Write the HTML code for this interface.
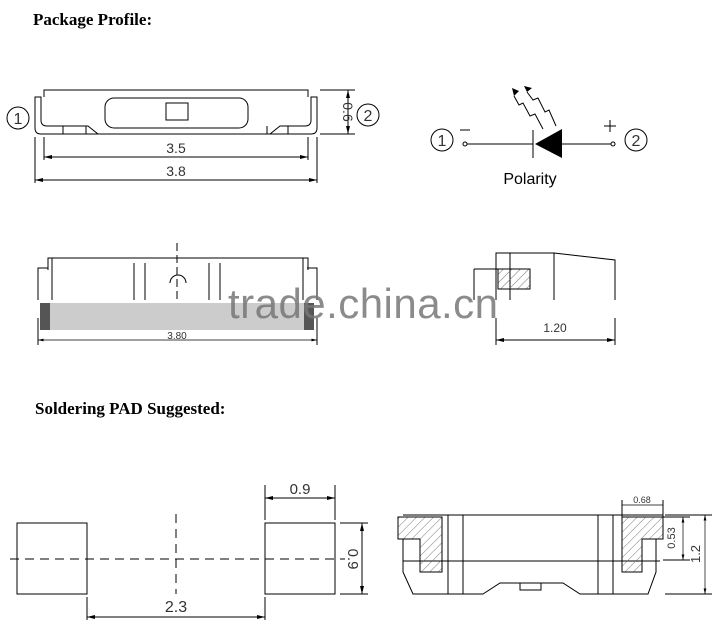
<!DOCTYPE html>
<html><head><style>body{margin:0;background:#fff}svg{display:block}</style></head><body>
<svg width="724" height="635" viewBox="0 0 724 635" xmlns="http://www.w3.org/2000/svg" font-family="Liberation Sans, sans-serif">
<defs>
<pattern id="h" width="6" height="6" patternUnits="userSpaceOnUse" patternTransform="rotate(45)"><line x1="0" y1="0" x2="0" y2="6" stroke="#555" stroke-width="0.8"/></pattern>
<marker id="a" markerWidth="8" markerHeight="6" refX="8" refY="3" orient="auto-start-reverse"><path d="M0,1 L8,3 L0,5z" fill="#000"/></marker>
</defs>
<g font-family="Liberation Serif, serif" font-weight="bold" font-size="17">
<text x="33" y="25">Package Profile:</text>
<text x="35" y="414">Soldering PAD Suggested:</text>
</g>
<g fill="none" stroke="#000" stroke-width="1">
<path d="M44,97 V90 H308 V97"/>
<path d="M35,97 H41 V120 Q41,126 47,126 H88 L98,134 H270 L280,126 H305 Q311,126 311,120 V97 H317 V128 Q317,134 311,134 H41 Q35,134 35,128 Z"/>
<rect x="105" y="98" width="143" height="30" rx="9"/>
<rect x="166" y="103" width="22" height="17"/>
<path d="M63,126 V134 M86,126 V134 M267,126 V134 M288,126 V134"/>
<path d="M44,137 V160 M308,137 V160 M35,137 V183 M317,137 V183 M320,90 H355 M320,134 H355"/>
<line x1="44" y1="157" x2="308" y2="157" marker-start="url(#a)" marker-end="url(#a)"/>
<line x1="35" y1="180" x2="317" y2="180" marker-start="url(#a)" marker-end="url(#a)"/>
<line x1="348" y1="90" x2="348" y2="134" marker-start="url(#a)" marker-end="url(#a)"/>
<circle cx="18" cy="118" r="11"/><circle cx="368" cy="115" r="11"/>
<circle cx="442" cy="140" r="11"/><circle cx="636" cy="140" r="11"/>
<circle cx="465" cy="144" r="2"/><circle cx="613" cy="144" r="2"/>
<path d="M467,144 H533 M562,144 H611 M533,130 V158 M460,130 H470 M610,120 V132 M604,126 H616"/>
<path d="M556,126 L549,110 L545,112 L538,98 L533,100 L527,92" />
<path d="M543,129 L535,114 L530,116 L523,103 L519,105 L514,96"/>
<path d="M496,300 V253 H554 L615,260 V300 M510,253 V300 M554,253 V300"/>
<path d="M48,270 V258 H308 V270 M52,258 V300 M303,258 V300 M38,300 V268 H48 M317,300 V268 H307"/>
<path d="M134,263 V300 M145,263 V300 M209,263 V300 M220,263 V300"/>
<path d="M170,283 A8,8 0 0 1 186,283"/>
<path d="M177,243 V300" stroke-dasharray="8,4"/>
<path d="M38,318 V345 M317,318 V345"/>
<line x1="38" y1="340" x2="317" y2="340" marker-start="url(#a)" marker-end="url(#a)" stroke-width="0.7"/>
<rect x="498" y="269" width="32" height="20" fill="url(#h)"/>
<path d="M474,269 H498 M474,269 V300"/>
<path d="M496,318 V345 M615,318 V345"/>
<line x1="496" y1="340" x2="615" y2="340" marker-start="url(#a)" marker-end="url(#a)"/>
<rect x="17" y="523" width="70" height="71"/><rect x="265" y="523" width="70" height="71"/>
<path d="M10,559 H345 M176,514 V594" stroke-dasharray="9,6"/>
<path d="M87,597 V620 M265,597 V620 M265,485 V520 M335,485 V520 M340,523 H368 M340,594 H368"/>
<line x1="87" y1="617" x2="265" y2="617" marker-start="url(#a)" marker-end="url(#a)"/>
<line x1="265" y1="498" x2="335" y2="498" marker-start="url(#a)" marker-end="url(#a)"/>
<line x1="362" y1="523" x2="362" y2="594" marker-start="url(#a)" marker-end="url(#a)"/>
<path d="M403,515 H663 M403,561 H660 M448,515 V594 M463,515 V594 M598,515 V594 M613,515 V594"/>
<path d="M403,539 V572 L413,594 H483 L500,583 H563 L580,594 H648 L656,572 V539"/>
<rect x="520" y="583" width="21" height="7"/>
<path d="M398,517 H442 V572 H420 V539 H398 Z" fill="url(#h)"/>
<path d="M622,517 H663 V539 H642 V572 H622 Z" fill="url(#h)"/>
<path d="M622,500 V517 M663,500 V517 M663,517 H690 M663,560 H690 M665,515 H712 M665,594 H712"/>
<line x1="622" y1="505" x2="663" y2="505" stroke-width="0.7"/>
<line x1="683" y1="517" x2="683" y2="560" marker-start="url(#a)" marker-end="url(#a)" stroke-width="0.7"/>
<line x1="705" y1="515" x2="705" y2="594" marker-start="url(#a)" marker-end="url(#a)" stroke-width="0.7"/>
</g>
<path d="M535,144 L562,129 V158 Z" fill="#000"/>
<path d="M527,92 L524,86 L532,88 Z M514,96 L512,88 L519,91 Z" fill="#000"/>
<rect x="40" y="303" width="274" height="27" fill="#ccc"/>
<rect x="40" y="303" width="10" height="27" fill="#555"/><rect x="304" y="303" width="10" height="27" fill="#555"/>
<g font-size="14" fill="#333" text-anchor="middle">
<text x="176" y="153">3.5</text><text x="176" y="176">3.8</text>
<text x="18" y="124" font-size="16">1</text><text x="368" y="121" font-size="16">2</text>
<text x="442" y="146" font-size="16">1</text><text x="636" y="146" font-size="16">2</text>
<text transform="translate(343,112) rotate(90)">0.6</text>
<text x="530" y="184" font-size="16" fill="#000">Polarity</text>
<text x="177" y="339" font-size="10">3.80</text>
<text x="555" y="332" font-size="12">1.20</text>
<text x="176" y="612" font-size="16">2.3</text>
<text x="300" y="494" font-size="15">0.9</text>
<text transform="translate(348,559) rotate(90)" font-size="15">0.9</text>
<text x="642" y="503" font-size="9">0.68</text>
<text transform="translate(675,538) rotate(-90)" font-size="11">0.53</text>
<text transform="translate(700,554) rotate(-90)" font-size="13">1.2</text>
</g>
<text x="228" y="318" font-size="42" fill="#777" opacity="0.85" textLength="270">trade.china.cn</text>
</svg>
</body></html>
